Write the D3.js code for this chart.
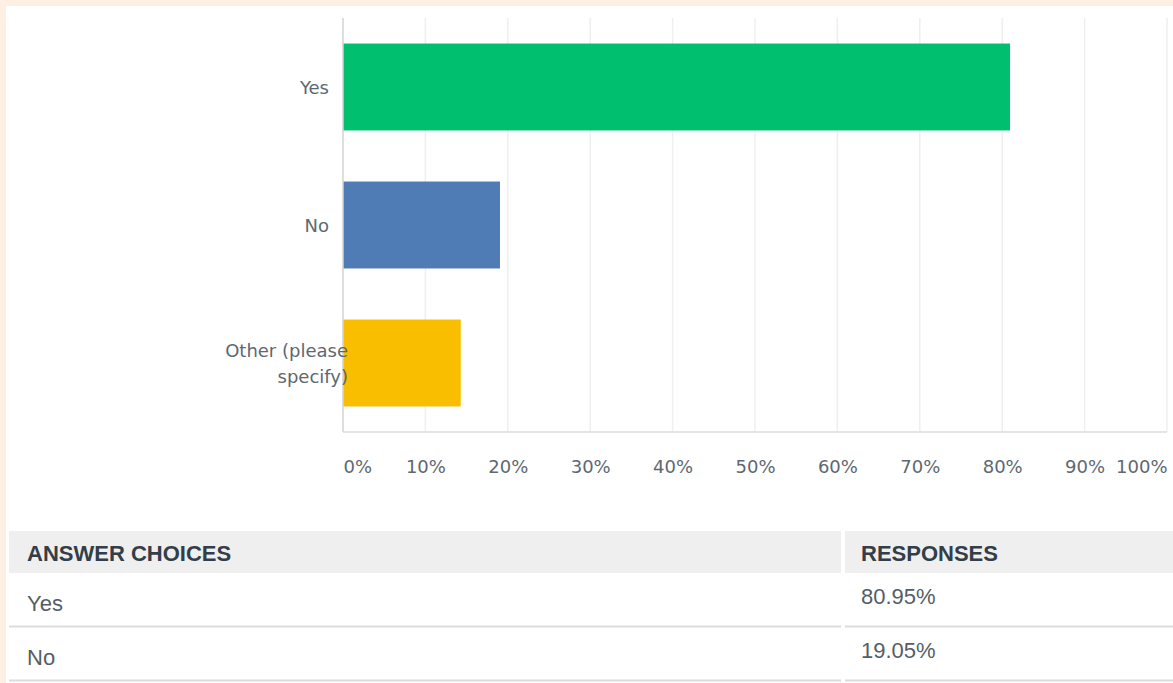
<!DOCTYPE html>
<html>
<head>
<meta charset="utf-8">
<script src="https://cdn.jsdelivr.net/npm/d3@7"></script>
<style>
  html, body { margin: 0; padding: 0; background: #fdefe1; }
  svg { display: block; }
</style>
</head>
<body>
<svg id="chart" width="1173" height="683"></svg>
<script>
// Survey answers and share of respondents (%)
const categories = ["Yes", "No", "Other (please specify)"];
const values = [80.95, 19.05, 14.29];
const colors = ["#00bf6f", "#507cb6", "#f9be00"];
const tickValues = [0, 10, 20, 30, 40, 50, 60, 70, 80, 90, 100];
const tickLabels = ["0%", "10%", "20%", "30%", "40%", "50%", "60%", "70%", "80%", "90%", "100%"];
const tableHeaders = ["ANSWER CHOICES", "RESPONSES"];
const tableChoices = ["Yes", "No"];
const tableResponses = ["80.95%", "19.05%"];

const svg = d3.select("#chart");
const W = 1173, H = 683;

// white panel on the cream page
svg.append("rect").attr("x", 6).attr("y", 6).attr("width", W - 6).attr("height", H - 6).attr("fill", "#ffffff");

const plot = { left: 343, right: 1167, top: 18, bottom: 432 };

const x = d3.scaleLinear().domain([0, 100]).range([plot.left, plot.right]);
const y = d3.scaleBand().domain(categories).range([plot.top, plot.bottom]).paddingInner(0.37).paddingOuter(0.185);

const labelFont = "'DejaVu Sans', Verdana, sans-serif";
const textGray = "#5d6871";

// vertical gridlines
svg.append("g").selectAll("line")
  .data(tickValues.slice(1))
  .join("line")
  .attr("x1", d => x(d)).attr("x2", d => x(d))
  .attr("y1", plot.top).attr("y2", plot.bottom)
  .attr("stroke", "#efefef").attr("stroke-width", 1.5);

// bars
svg.append("g").selectAll("rect")
  .data(categories)
  .join("rect")
  .attr("x", x(0))
  .attr("y", d => y(d))
  .attr("width", (d, i) => x(values[i]) - x(0))
  .attr("height", y.bandwidth())
  .attr("fill", (d, i) => colors[i]);

// baseline and left axis
svg.append("line").attr("x1", plot.left).attr("x2", plot.right).attr("y1", plot.bottom).attr("y2", plot.bottom)
  .attr("stroke", "#dcdcdc").attr("stroke-width", 1.5);
svg.append("line").attr("x1", plot.left).attr("x2", plot.left).attr("y1", plot.top).attr("y2", plot.bottom)
  .attr("stroke", "#d3d3d3").attr("stroke-width", 1.5);

// x tick labels (first left-aligned, last right-aligned)
const xAxis = d3.axisBottom(x).tickValues(tickValues).tickFormat((d, i) => tickLabels[i]).tickSize(0).tickPadding(0);
const gx = svg.append("g").attr("transform", `translate(0,${plot.bottom + 41})`).call(xAxis);
gx.select(".domain").remove();
gx.selectAll("text")
  .attr("font-family", labelFont).attr("font-size", 18).attr("fill", textGray)
  .attr("dy", "0")
  .attr("text-anchor", (d, i) => i === 0 ? "start" : (i === tickValues.length - 1 ? "end" : "middle"));

// category labels, wrapped
const wrapAt = 14;
function wrapLines(s) {
  const words = s.split(" ");
  const lines = [];
  let cur = "";
  words.forEach(w => {
    const t = cur ? cur + " " + w : w;
    if (t.length > wrapAt && cur) { lines.push(cur); cur = w; } else cur = t;
  });
  lines.push(cur);
  return lines;
}
const lineH = 26;
svg.append("g").selectAll("text")
  .data(categories)
  .join("text")
  .attr("font-family", labelFont).attr("font-size", 18).attr("fill", textGray)
  .attr("text-anchor", "end")
  .each(function (d) {
    const lines = wrapLines(d);
    const cy = y(d) + y.bandwidth() / 2;
    const ex = lines.length > 1 ? plot.left + 5 : plot.left - 14;
    const t = d3.select(this);
    lines.forEach((ln, k) => {
      t.append("tspan").attr("x", ex)
        .attr("y", cy + (k - (lines.length - 1) / 2) * lineH + 7)
        .text(ln);
    });
  });

// summary table
const tFont = "'Liberation Sans', Arial, sans-serif";
const col = [{ x0: 9, x1: 841, tx: 27 }, { x0: 845, x1: W, tx: 861 }];
const headTop = 531, headBot = 573;
col.forEach((c, i) => {
  svg.append("rect").attr("x", c.x0).attr("y", headTop).attr("width", c.x1 - c.x0).attr("height", headBot - headTop).attr("fill", "#efefef");
  svg.append("text").attr("x", c.tx).attr("y", headTop + 30)
    .attr("font-family", tFont).attr("font-size", 22).attr("font-weight", "bold").attr("fill", "#333e48")
    .text(tableHeaders[i]);
});
const rowH = 54;
tableChoices.forEach((ch, r) => {
  const top = headBot + r * rowH;
  col.forEach(c => {
    svg.append("rect").attr("x", c.x0).attr("y", top + rowH - 1.5).attr("width", c.x1 - c.x0).attr("height", 2).attr("fill", "#dcdcdc");
  });
  svg.append("text").attr("x", col[0].tx).attr("y", top + 38)
    .attr("font-family", tFont).attr("font-size", 22).attr("fill", "#555e66").text(ch);
  svg.append("text").attr("x", col[1].tx).attr("y", top + 31)
    .attr("font-family", tFont).attr("font-size", 22).attr("fill", "#555e66").text(tableResponses[r]);
});
</script>
</body>
</html>
